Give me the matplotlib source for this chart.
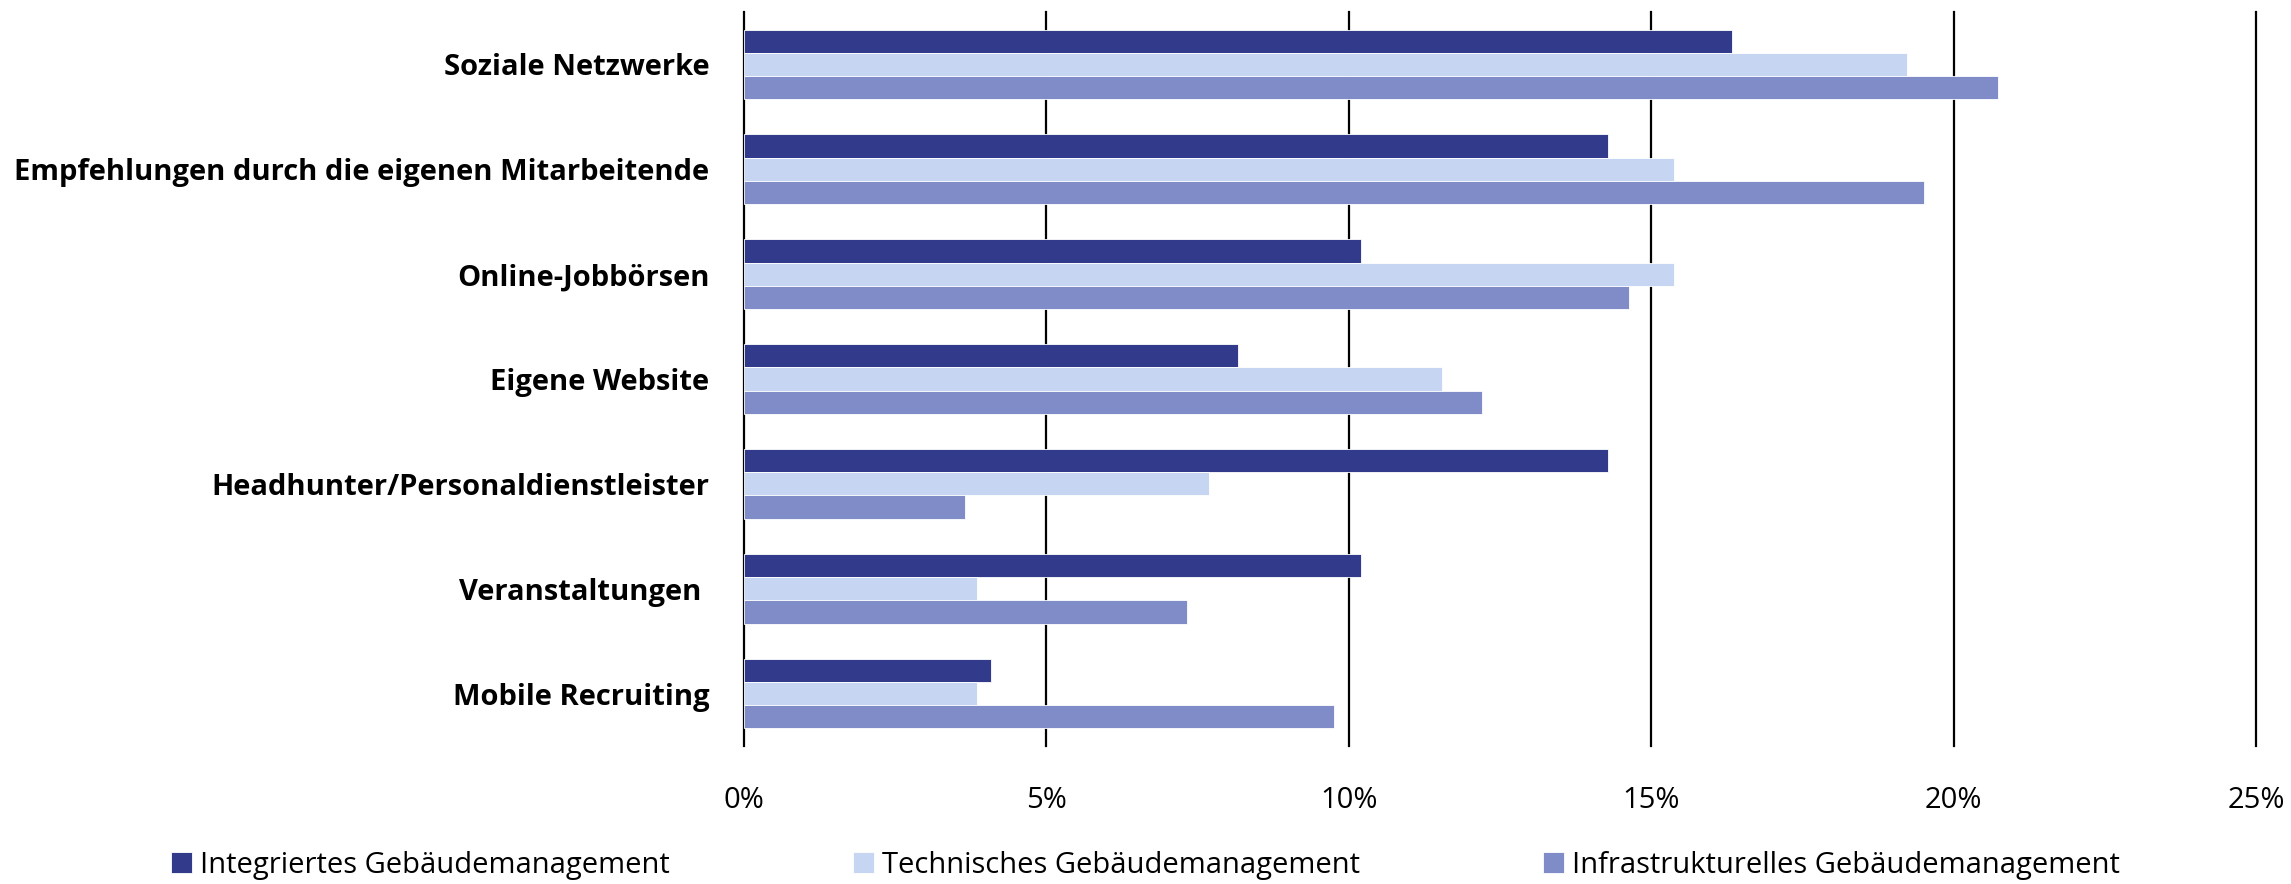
import numpy as np
import matplotlib
matplotlib.use('Agg')
import matplotlib.pyplot as plt
from matplotlib.ticker import FuncFormatter

plt.rcParams['font.family'] = ['Open Sans', 'DejaVu Sans']

categories = ['Soziale Netzwerke',
              'Empfehlungen durch die eigenen Mitarbeitende',
              'Online-Jobbörsen',
              'Eigene Website',
              'Headhunter/Personaldienstleister',
              'Veranstaltungen ',
              'Mobile Recruiting']
series_names = ['Integriertes Gebäudemanagement',
                'Technisches Gebäudemanagement',
                'Infrastrukturelles Gebäudemanagement']
integriert = [16.33, 14.29, 10.20, 8.16, 14.29, 10.20, 4.08]
technisch = [19.23, 15.38, 15.38, 11.54, 7.69, 3.85, 3.85]
infrastruktur = [20.73, 19.51, 14.63, 12.20, 3.66, 7.32, 9.76]
x_ticks = [0, 5, 10, 15, 20, 25]

colors = ['#323a8c', '#c5d5f2', '#7f8cc8']

fig = plt.figure(figsize=(22.91, 8.84), dpi=100)
ax = fig.add_axes([744 / 2291, 1 - 746 / 884, (2256 - 744) / 2291, (746 - 12) / 884])

y = np.arange(len(categories))
h = 0.222
for i, (vals, name) in enumerate(zip([integriert, technisch, infrastruktur], series_names)):
    ax.barh(y + (i - 1) * h, vals, height=h, color=colors[i], label=name,
            edgecolor='white', linewidth=0.6, zorder=2)

ax.set_ylim(len(categories) - 0.5, -0.5)
ax.set_xlim(0, 25)
ax.set_xticks(x_ticks)
ax.xaxis.set_major_formatter(FuncFormatter(lambda v, p: '%d%%' % v))
ax.set_yticks(y)
ax.set_yticklabels(categories, fontweight='bold', fontsize=21)
ax.tick_params(axis='y', length=0, pad=25)
ax.tick_params(axis='x', length=0, pad=29, labelsize=21)
for s in ax.spines.values():
    s.set_visible(False)
ax.grid(axis='x', color='black', linewidth=1.6, zorder=0)
ax.set_axisbelow(True)
for gl in ax.get_xgridlines():
    gl.set_clip_on(False)

fig.legend(loc='center', bbox_to_anchor=(0.5, 0.021), ncol=3, frameon=False,
           fontsize=21, handlelength=0.72, handleheight=0.72, handletextpad=0.25,
           columnspacing=6.3, borderaxespad=0)

fig.savefig('out.png', dpi=100)
